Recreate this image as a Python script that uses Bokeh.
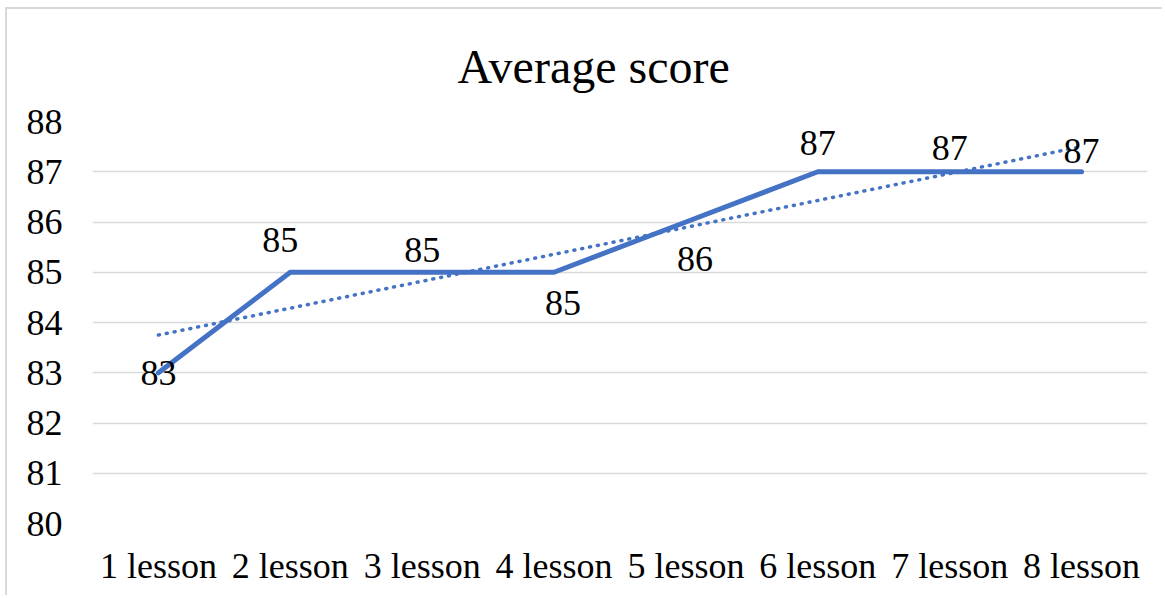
import numpy as np
from bokeh.plotting import figure
from bokeh.models import ColumnDataSource, LabelSet, Title, FixedTicker, Range1d, FactorRange
from bokeh.core.properties import value
from bokeh.embed import file_html
from bokeh.resources import INLINE

categories = ["1 lesson", "2 lesson", "3 lesson", "4 lesson", "5 lesson", "6 lesson", "7 lesson", "8 lesson"]
scores = [83, 85, 85, 85, 86, 87, 87, 87]
y_ticks = [80, 81, 82, 83, 84, 85, 86, 87, 88]
title_text = "Average score"

# label placement (pixel offsets, style only)
label_dx = [0, -10, 0, 9, 9, 0, 0, 0]
label_dy = [0, 32, 22, -31, -37, 29, 24, 21]

# linear trendline from the data
xs = np.arange(1, len(scores) + 1)
slope, intercept = np.polyfit(xs, scores, 1)
trend = [float(v) for v in (slope * xs + intercept)]

FONT = "Liberation Serif"
BLUE = "#4472C4"

p = figure(
    x_range=FactorRange(*categories, range_padding=0),
    y_range=Range1d(80, 88),
    width=1157, height=588,
    output_backend="svg", toolbar_location=None,
    min_border_left=85, min_border_right=17, min_border_top=112, min_border_bottom=74,
)
p.styles = {"border-left": "2px solid #d9d9d9", "border-top": "2px solid #d9d9d9",
            "margin-left": "5px", "margin-top": "7px"}
p.outline_line_color = None
p.background_fill_color = "white"
p.border_fill_color = "white"

p.xgrid.grid_line_color = None
p.ygrid.grid_line_color = "#d9d9d9"
p.ygrid.grid_line_width = 1.5
p.yaxis.ticker = FixedTicker(ticks=y_ticks)

for ax in (p.xaxis, p.yaxis):
    ax.axis_line_color = None
    ax.major_tick_line_color = None
    ax.minor_tick_line_color = None
    ax.major_label_text_font = FONT
    ax.major_label_text_font_size = "36px"
    ax.major_label_text_color = "black"
p.xaxis.major_label_standoff = 16
p.yaxis.major_label_standoff = 24

src = ColumnDataSource(dict(x=categories, y=scores, t=[str(s) for s in scores],
                            dx=label_dx, dy=label_dy, trend=trend))

p.line("x", "trend", source=src, line_color=BLUE, line_width=3.5, line_dash="1 7", line_cap="round")
p.line("x", "y", source=src, line_color=BLUE, line_width=5, line_join="round", line_cap="round")

labels = LabelSet(x="x", y="y", text="t", source=src, x_offset="dx", y_offset="dy",
                  text_align="center", text_baseline="middle",
                  text_font=value(FONT), text_font_size="36px", text_color="black")
p.add_layout(labels)

p.title = Title(text=title_text, align="left", offset=365, standoff=57,
                text_font=FONT, text_font_size="48px", text_font_style="normal",
                text_color="black")

open("out.html", "w").write(file_html(p, INLINE))
